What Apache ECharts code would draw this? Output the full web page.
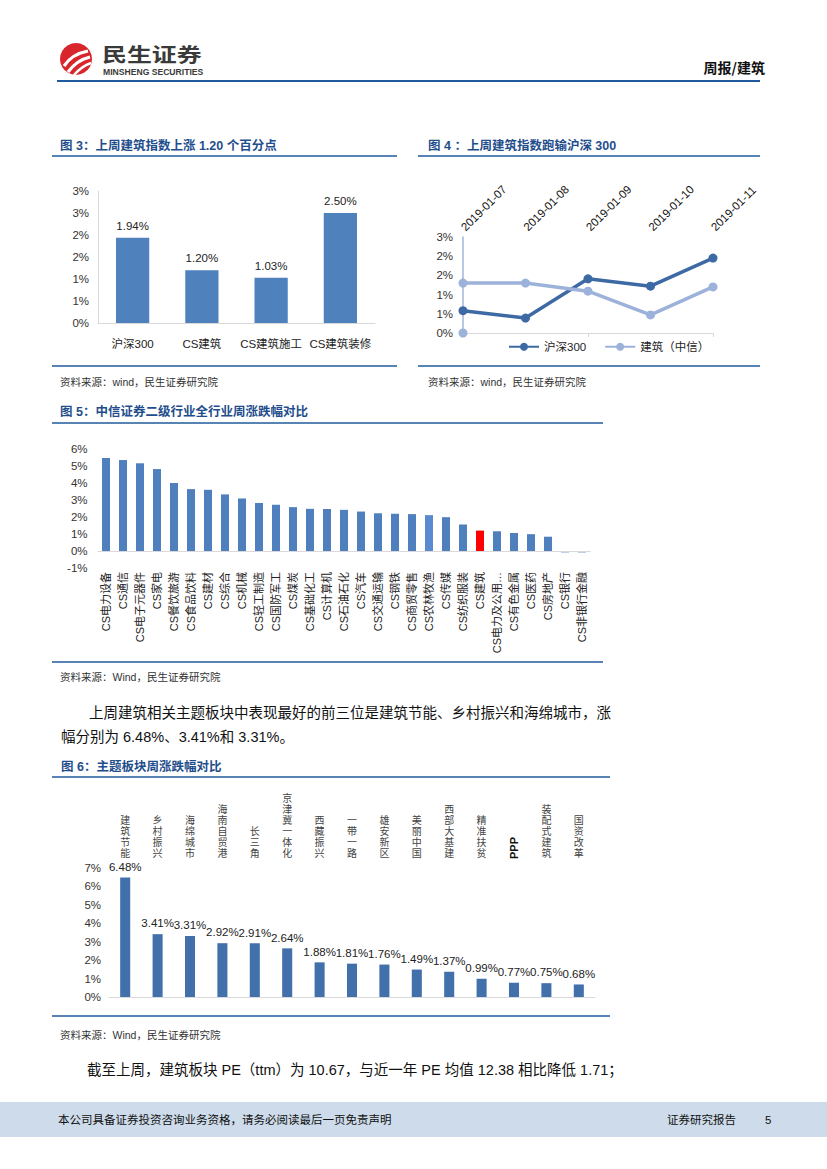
<!DOCTYPE html>
<html><head><meta charset="utf-8">
<script src="https://cdn.jsdelivr.net/npm/echarts@6/dist/echarts.min.js"></script>
<style>html,body{margin:0;padding:0;background:#fff}#page{width:827px;height:1169px}</style>
</head><body><div id="page"></div>
<script>
// ---------- data ----------
const fig3Categories = ['沪深300', 'CS建筑', 'CS建筑施工', 'CS建筑装修'];
const fig3Values = [1.94, 1.20, 1.03, 2.50];

const fig4Dates = ['2019-01-07', '2019-01-08', '2019-01-09', '2019-01-10', '2019-01-11'];
const fig4HS300 = [0.58, 0.39, 1.41, 1.22, 1.95];
const fig4Construction = [1.30, 1.30, 1.09, 0.47, 1.20];
const fig4ConstructionStart = [0, '-', '-', '-', '-'];
const fig4SeriesNames = ['沪深300', '建筑（中信）'];

const fig5Categories = ['CS电力设备', 'CS通信', 'CS电子元器件', 'CS家电', 'CS餐饮旅游', 'CS食品饮料', 'CS建材', 'CS综合', 'CS机械', 'CS轻工制造', 'CS国防军工', 'CS煤炭', 'CS基础化工', 'CS计算机', 'CS石油石化', 'CS汽车', 'CS交通运输', 'CS钢铁', 'CS商贸零售', 'CS农林牧渔', 'CS传媒', 'CS纺织服装', 'CS建筑', 'CS电力及公用…', 'CS有色金属', 'CS医药', 'CS房地产', 'CS银行', 'CS非银行金融'];
const fig5Values = [5.47, 5.35, 5.16, 4.82, 4.00, 3.64, 3.60, 3.33, 3.09, 2.83, 2.72, 2.58, 2.48, 2.47, 2.42, 2.32, 2.22, 2.19, 2.17, 2.11, 1.99, 1.56, 1.20, 1.16, 1.06, 0.99, 0.84, -0.08, -0.08];
const fig5Highlight = 'CS建筑';
const fig5Lighter = 'CS农林牧渔';

const fig6Categories = ['建筑节能', '乡村振兴', '海绵城市', '海南自贸港', '长三角', '京津冀一体化', '西藏振兴', '一带一路', '雄安新区', '美丽中国', '西部大基建', '精准扶贫', 'PPP', '装配式建筑', '国资改革'];
const fig6Values = [6.48, 3.41, 3.31, 2.92, 2.91, 2.64, 1.88, 1.81, 1.76, 1.49, 1.37, 0.99, 0.77, 0.75, 0.68];
const fig6Rotated = 'PPP';

// ---------- styling helpers ----------
const FONT = '"Liberation Sans","Noto Sans CJK SC",sans-serif';
const CJK = '"Noto Sans CJK SC","Liberation Sans",sans-serif';
const BLUE_LINE = '#1f5b9c';
const TITLE_BLUE = '#1f4e8c';
const AXIS_GRAY = '#d9d9d9';
const pct = v => Math.round(v) + '%';

function txt(text, x, y, size, opts) {
  opts = opts || {};
  const el = {
    type: 'text', x: x, y: y, silent: true,
    style: {
      text: text,
      font: (opts.weight || 'normal') + ' ' + size + 'px ' + (opts.family || FONT),
      fill: opts.fill || '#222',
      textAlign: opts.align || 'left',
      textVerticalAlign: 'middle'
    }
  };
  if (opts.scaleX) el.scaleX = opts.scaleX;
  return el;
}
function hline(x1, x2, y, color, w) {
  return { type: 'line', silent: true, shape: { x1: x1, y1: y, x2: x2, y2: y }, style: { stroke: color, lineWidth: w } };
}

const graphics = [
  // header logo
  { type: 'circle', silent: true, shape: { cx: 76, cy: 59, r: 16 }, style: { fill: '#d9262c' } },
  { type: 'bezierCurve', silent: true, shape: { x1: 64, y1: 66, x2: 88, y2: 51, cpx1: 72, cpy1: 54 }, style: { stroke: '#fff', lineWidth: 3.2, fill: null } },
  { type: 'bezierCurve', silent: true, shape: { x1: 68, y1: 72, x2: 90, y2: 57, cpx1: 77, cpy1: 60 }, style: { stroke: '#fff', lineWidth: 3.2, fill: null } },
  { type: 'bezierCurve', silent: true, shape: { x1: 74, y1: 75, x2: 91, y2: 63, cpx1: 82, cpy1: 66 }, style: { stroke: '#fff', lineWidth: 2.6, fill: null } },
  txt('民生证券', 102, 53, 19.5, { weight: 'bold', family: CJK, fill: '#3a3a3a', scaleX: 1.28 }),
  txt('MINSHENG SECURITIES', 103, 71.5, 8.6, { weight: 'bold', fill: '#3a3a3a' }),
  txt('周报/建筑', 765, 67, 14, { weight: 'bold', family: CJK, fill: '#111', align: 'right' }),
  hline(57, 760, 81, BLUE_LINE, 2.2),

  // figure 3
  txt('图 3：上周建筑指数上涨 1.20 个百分点', 60, 146, 12.5, { weight: 'bold', fill: TITLE_BLUE }),
  hline(52, 397, 156, BLUE_LINE, 1.6),
  hline(52, 397, 366, BLUE_LINE, 1.6),
  txt('资料来源：wind，民生证券研究院', 60, 382, 10.5, { fill: '#333' }),

  // figure 4
  txt('图 4 ：上周建筑指数跑输沪深 300', 428, 146, 12.5, { weight: 'bold', fill: TITLE_BLUE }),
  hline(418, 760, 156, BLUE_LINE, 1.6),
  hline(418, 760, 366, BLUE_LINE, 1.6),
  txt('资料来源：wind，民生证券研究院', 428, 382, 10.5, { fill: '#333' }),

  // figure 5
  txt('图 5：中信证券二级行业全行业周涨跌幅对比', 60, 412, 12.5, { weight: 'bold', fill: TITLE_BLUE }),
  hline(52, 603, 423, BLUE_LINE, 1.6),
  hline(52, 603, 662, BLUE_LINE, 1.6),
  txt('资料来源：Wind，民生证券研究院', 60, 677, 10.5, { fill: '#333' }),

  // paragraph
  txt('上周建筑相关主题板块中表现最好的前三位是建筑节能、乡村振兴和海绵城市，涨', 89, 713, 14.5, { fill: '#111' }),
  txt('幅分别为 6.48%、3.41%和 3.31%。', 61, 737, 14.5, { fill: '#111' }),

  // figure 6
  txt('图 6：主题板块周涨跌幅对比', 61, 767, 12.5, { weight: 'bold', fill: TITLE_BLUE }),
  hline(52, 610, 777, BLUE_LINE, 1.6),
  hline(52, 610, 1016, BLUE_LINE, 1.6),
  txt('资料来源：Wind，民生证券研究院', 60, 1035, 10.5, { fill: '#333' }),

  txt('截至上周，建筑板块 PE（ttm）为 10.67，与近一年 PE 均值 12.38 相比降低 1.71；', 87, 1070, 14.5, { fill: '#111' }),

  // footer
  { type: 'rect', silent: true, shape: { x: 0, y: 1102, width: 827, height: 35 }, style: { fill: '#cddbea' } },
  txt('本公司具备证券投资咨询业务资格，请务必阅读最后一页免责声明', 58, 1120, 11.5, { fill: '#111' }),
  txt('证券研究报告', 667, 1120, 11.5, { fill: '#111' }),
  txt('5', 765, 1120, 11.5, { fill: '#111' })
];

const option = {
  animation: false,
  backgroundColor: '#fff',
  textStyle: { fontFamily: FONT },
  graphic: { elements: graphics },
  grid: [
    { left: 98, top: 191, width: 277, height: 132, containLabel: false, outerBoundsMode: 'none' },
    { left: 463, top: 237, width: 250, height: 96, containLabel: false, outerBoundsMode: 'none' },
    { left: 97.5, top: 449, width: 493, height: 119, containLabel: false, outerBoundsMode: 'none' },
    { left: 109, top: 868, width: 486, height: 129, containLabel: false, outerBoundsMode: 'none' }
  ],
  legend: {
    data: fig4SeriesNames,
    left: 503, top: 336,
    itemWidth: 30, itemHeight: 10, itemGap: 18,
    textStyle: { fontSize: 11.5, color: '#222', fontFamily: FONT }
  },
  xAxis: [
    { gridIndex: 0, type: 'category', data: fig3Categories,
      axisLine: { lineStyle: { color: AXIS_GRAY } }, axisTick: { show: false },
      axisLabel: { interval: 0, margin: 15, fontSize: 11.5, color: '#222' } },
    { gridIndex: 1, type: 'category', data: fig4Dates, position: 'top', boundaryGap: false,
      axisLine: { show: false }, axisTick: { show: false },
      axisLabel: { interval: 0, rotate: 45, margin: 8, fontSize: 11.5, color: '#111' } },
    { gridIndex: 1, type: 'category', data: fig4Dates, position: 'bottom', boundaryGap: false,
      axisLine: { lineStyle: { color: AXIS_GRAY } }, axisTick: { show: true, length: 4, lineStyle: { color: AXIS_GRAY } },
      axisLabel: { show: false } },
    { gridIndex: 2, type: 'category', data: fig5Categories,
      axisLine: { show: false, onZero: false }, axisTick: { show: false },
      axisLabel: { interval: 0, rotate: 90, margin: 4, fontSize: 11, color: '#222' } },
    { gridIndex: 3, type: 'category', data: fig6Categories, position: 'bottom',
      axisLine: { lineStyle: { color: AXIS_GRAY } }, axisTick: { show: false }, axisLabel: { show: false } },
    { gridIndex: 3, type: 'category', data: fig6Categories, position: 'top',
      axisLine: { show: false }, axisTick: { show: false },
      axisLabel: { interval: 0, margin: 9, fontSize: 10, lineHeight: 11, color: '#444',
        formatter: v => v === fig6Rotated ? '' : v.split('').join('\n') } },
    { gridIndex: 3, type: 'category', data: fig6Categories, position: 'top',
      axisLine: { show: false }, axisTick: { show: false },
      axisLabel: { interval: 0, margin: 9, rotate: -90, fontSize: 11, fontWeight: 'bold', color: '#111',
        formatter: v => v === fig6Rotated ? v : '' } }
  ],
  yAxis: [
    { gridIndex: 0, type: 'value', min: 0, max: 3, interval: 0.5,
      axisLine: { show: true, lineStyle: { color: AXIS_GRAY } }, axisTick: { show: false }, splitLine: { show: false },
      axisLabel: { formatter: pct, margin: 9, fontSize: 11.5, color: '#333' } },
    { gridIndex: 1, type: 'value', min: 0, max: 2.5, interval: 0.5,
      axisLine: { show: true, lineStyle: { color: '#a7badc', width: 1.6 } }, axisTick: { show: false }, splitLine: { show: false },
      axisLabel: { formatter: pct, margin: 10, fontSize: 11.5, color: '#333' } },
    { gridIndex: 2, type: 'value', min: -1, max: 6, interval: 1,
      axisLine: { show: false }, axisTick: { show: false }, splitLine: { show: false },
      axisLabel: { formatter: pct, margin: 10, fontSize: 11.5, color: '#333' } },
    { gridIndex: 3, type: 'value', min: 0, max: 7, interval: 1,
      axisLine: { show: false }, axisTick: { show: false }, splitLine: { show: false },
      axisLabel: { formatter: pct, margin: 8, fontSize: 11.5, color: '#333' } }
  ],
  series: [
    { type: 'bar', xAxisIndex: 0, yAxisIndex: 0, data: fig3Values, barWidth: '48%',
      itemStyle: { color: '#4f81bd' },
      label: { show: true, position: 'top', distance: 6, fontSize: 11.5, color: '#222',
        formatter: p => p.value.toFixed(2) + '%' } },
    { name: fig4SeriesNames[0], type: 'line', xAxisIndex: 2, yAxisIndex: 1, data: fig4HS300,
      symbol: 'circle', symbolSize: 9, color: '#3d69a4',
      lineStyle: { width: 3.5, color: '#3d69a4' }, itemStyle: { color: '#3d69a4' } },
    { name: fig4SeriesNames[1], type: 'line', xAxisIndex: 2, yAxisIndex: 1, data: fig4Construction,
      symbol: 'circle', symbolSize: 9, color: '#9cb2da',
      lineStyle: { width: 3.5, color: '#9cb2da' }, itemStyle: { color: '#9cb2da' } },
    { name: 'start', type: 'line', xAxisIndex: 2, yAxisIndex: 1, data: fig4ConstructionStart,
      symbol: 'circle', symbolSize: 9, showSymbol: true,
      lineStyle: { width: 0 }, itemStyle: { color: '#9cb2da' } },
    { type: 'bar', xAxisIndex: 3, yAxisIndex: 2, data: fig5Values, barWidth: '47%',
      itemStyle: { color: p => p.name === fig5Highlight ? '#ff0000' : (p.name === fig5Lighter ? '#5a8bd0' : '#4f7fbc') },
      markLine: { silent: true, symbol: ['none', 'none'], label: { show: false },
        lineStyle: { color: AXIS_GRAY, type: 'solid', width: 1.2 }, data: [{ yAxis: 0 }] } },
    { type: 'bar', xAxisIndex: 4, yAxisIndex: 3, data: fig6Values, barWidth: '31%',
      itemStyle: { color: '#4170aa' },
      label: { show: true, position: 'top', distance: 5, fontSize: 11.5, color: '#222',
        formatter: p => p.value.toFixed(2) + '%' } }
  ]
};

const chart = echarts.init(document.getElementById('page'), null, { renderer: 'svg', width: 827, height: 1169 });
chart.setOption(option);
</script>
</body></html>
